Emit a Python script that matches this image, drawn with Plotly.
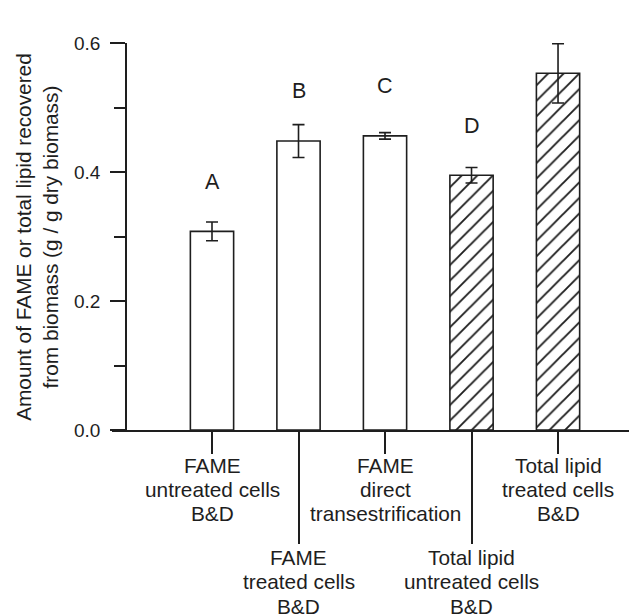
import plotly.graph_objects as go

categories = [
    ["FAME", "untreated cells", "B&D"],
    ["FAME", "treated cells", "B&D"],
    ["FAME", "direct", "transestrification"],
    ["Total lipid", "untreated cells", "B&D"],
    ["Total lipid", "treated cells", "B&D"],
]
values = [0.308, 0.448, 0.456, 0.395, 0.553]
errors = [0.0145, 0.0255, 0.005, 0.012, 0.046]
letters = ["A", "B", "C", "D", "E"]
letter_y = [0.385, 0.526, 0.534, 0.471, 0.629]
label_row = [0, 1, 0, 1, 0]
patterns = ["", "", "", "/", "/"]
y_ticks = [0.0, 0.2, 0.4, 0.6]

INK = "#1e1e1e"
FONT = "Liberation Sans, Arial, sans-serif"

xpos = list(range(len(categories)))
XR = [-1.156, 4.832]
PLOT_H = 387.0

fig = go.Figure()
fig.add_trace(go.Bar(
    x=xpos, y=values, width=0.5,
    marker=dict(color="white", line=dict(color=INK, width=1.6),
                pattern=dict(shape=patterns, fgcolor=INK, bgcolor="white",
                             fgopacity=1, size=11, solidity=0.17)),
    error_y=dict(type="data", array=errors, visible=True, color=INK,
                 thickness=1.6, width=6),
    cliponaxis=False, showlegend=False, hoverinfo="skip",
))

long_ticks = [x for x, r in zip(xpos, label_row) if r == 1]

for x, lt, ly in zip(xpos, letters, letter_y):
    fig.add_annotation(x=x, y=ly, xref="x", yref="y", text=lt, showarrow=False,
                       font=dict(size=21.5, color=INK, family=FONT),
                       xanchor="center", yanchor="middle")

# label lines: offset (px below x axis) of first line and line step
ROW_TOP = [35.0, 127.5]
STEP = 24.4
for x, lines, r in zip(xpos, categories, label_row):
    for i, line in enumerate(lines):
        off = ROW_TOP[r] + i * STEP
        fig.add_annotation(x=x, y=-off / PLOT_H, xref="x", yref="paper",
                           text=line, showarrow=False,
                           font=dict(size=20.8, color=INK, family=FONT),
                           xanchor="center", yanchor="middle", borderpad=0)

fig.add_annotation(x=-0.146, y=0.5, xref="paper", yref="paper",
                   text="Amount of FAME or total lipid recovered<br>from biomass (g / g dry biomass)",
                   textangle=-90, showarrow=False,
                   font=dict(size=20.8, color=INK, family=FONT),
                   xanchor="center", yanchor="middle", align="center")

fig.update_layout(
    width=629, height=607,
    margin=dict(l=104, r=7, t=35, b=185),
    paper_bgcolor="white", plot_bgcolor="white",
    font=dict(family=FONT, color=INK),
    xaxis=dict(range=XR, showgrid=False, zeroline=False, showline=True,
               linecolor=INK, linewidth=1.6, ticks="outside", ticklen=22,
               tickwidth=1.6, tickcolor=INK, tickvals=xpos, showticklabels=False),
    xaxis2=dict(range=XR, overlaying="x", anchor="y", side="bottom",
                showgrid=False, zeroline=False, showline=False,
                ticks="outside", ticklen=113, tickwidth=1.6, tickcolor=INK,
                tickvals=long_ticks, showticklabels=False),
    yaxis=dict(range=[0, 0.6], anchor="free", position=14 / 518,
               showgrid=False, zeroline=False, showline=True,
               linecolor=INK, linewidth=1.6, ticks="outside", ticklen=15,
               tickwidth=1.6, tickcolor=INK, tickvals=y_ticks,
               tickformat=".1f", ticklabelstandoff=6,
               tickfont=dict(size=19, color=INK, family=FONT),
               minor=dict(dtick=0.1, ticks="outside", ticklen=11,
                          tickwidth=1.6, tickcolor=INK)),
)
fig.add_trace(go.Scatter(x=long_ticks, y=[0] * len(long_ticks), xaxis="x2",
                         mode="markers", marker=dict(opacity=0),
                         showlegend=False, hoverinfo="skip"))

fig.write_html("out.html")
